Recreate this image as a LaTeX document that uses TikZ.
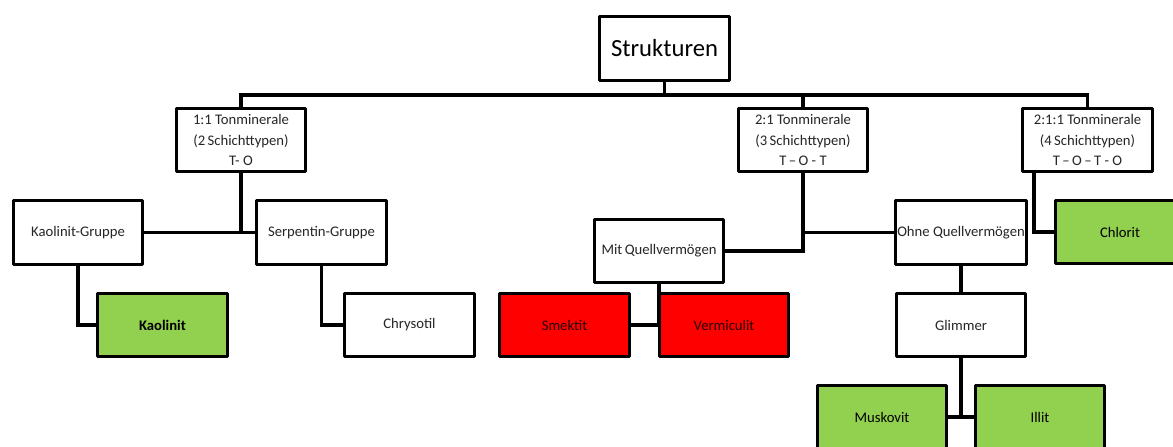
\documentclass[tikz,border=0pt]{standalone}
\usepackage{fontspec}
\setmainfont{Carlito}
\definecolor{gruen}{HTML}{92D050}
\definecolor{rot}{HTML}{FF0000}
\definecolor{schrift}{HTML}{262626}

\begin{document}
\begin{tikzpicture}[x=0.75pt,y=-0.75pt,
  box/.style={draw,line width=2.3pt,line join=round,fill=white,text=schrift,
    minimum width=97pt,minimum height=47.5pt,inner sep=1pt,align=center,
    font=\fontsize{11}{15.4}\selectfont},
  gruenbox/.style={box,fill=gruen,text=black},
  rotbox/.style={box,fill=rot,text=black!85!rot},
  linie/.style={line width=2.3pt}]
\useasboundingbox (0,0) rectangle (1173,446);
\clip (0,0) rectangle (1173,446);

\node[box,minimum width=98pt,minimum height=48pt,font=\fontsize{18.5}{22}\selectfont,text=black] (strukt) at (664.5,48.5) {Strukturen};

\node[box] (tonA) at (241,140) {1:1 Tonminerale\\(2\,Schichttypen)\\T- O};
\node[box] (tonB) at (803,140) {2:1 Tonminerale\\(3\,Schichttypen)\\T\,\textendash\,O - T};
\node[box] (tonC) at (1087.5,140) {2:1:1 Tonminerale\\(4\,Schichttypen)\\T\,\textendash\,O\,\textendash\,T - O};

\node[box] (kaoG) at (78,232.5) {Kaolinit-Gruppe};
\node[box] (serpG) at (321.5,232.5) {Serpentin-Gruppe};
\node[box] (mit) at (659,251) {Mit\,Quellverm\"ogen};
\node[box] (ohne) at (961,232.5) {Ohne Quellverm\"ogen};
\node[gruenbox] (chlorit) at (1120,232) {Chlorit};

\node[gruenbox,font=\fontsize{11}{15.4}\selectfont\bfseries] (kaolinit) at (162.5,325) {Kaolinit};
\node[box] (chrysotil) at (409.5,325) {Chrysotil};
\node[rotbox] (smektit) at (564.5,325) {Smektit};
\node[rotbox] (vermic) at (724,325) {Vermiculit};
\node[box] (glimmer) at (961,325) {Glimmer};

\node[gruenbox] (muskovit) at (882,417) {Muskovit};
\node[gruenbox] (illit) at (1040,417) {Illit};

\coordinate (bus) at (664.5,95);
\draw[linie] (strukt.south) -- (bus);
\draw[linie] (tonA.north) |- (bus) -| (tonC.north);
\draw[linie] (bus) -| (tonB.north);

\draw[linie] (tonA.south) -- (tonA.south |- kaoG.east);
\draw[linie] (kaoG.east) -- (serpG.west);
\draw[linie] (kaoG.south) |- (kaolinit.west);
\draw[linie] (serpG.south) |- (chrysotil.west);

\draw[linie] (tonB.south) |- (mit.east);
\draw[linie] (tonB.south |- ohne.west) -- (ohne.west);
\draw[linie] (mit.south) |- (smektit.east);
\draw[linie] (ohne.south) -- (glimmer.north);
\draw[linie] (glimmer.south) -- (glimmer.south |- muskovit.east);
\draw[linie] (muskovit.east) -- (illit.west);

\draw[linie] ([xshift=9.5pt]tonC.south west) |- (chlorit.west);
\end{tikzpicture}
\end{document}
